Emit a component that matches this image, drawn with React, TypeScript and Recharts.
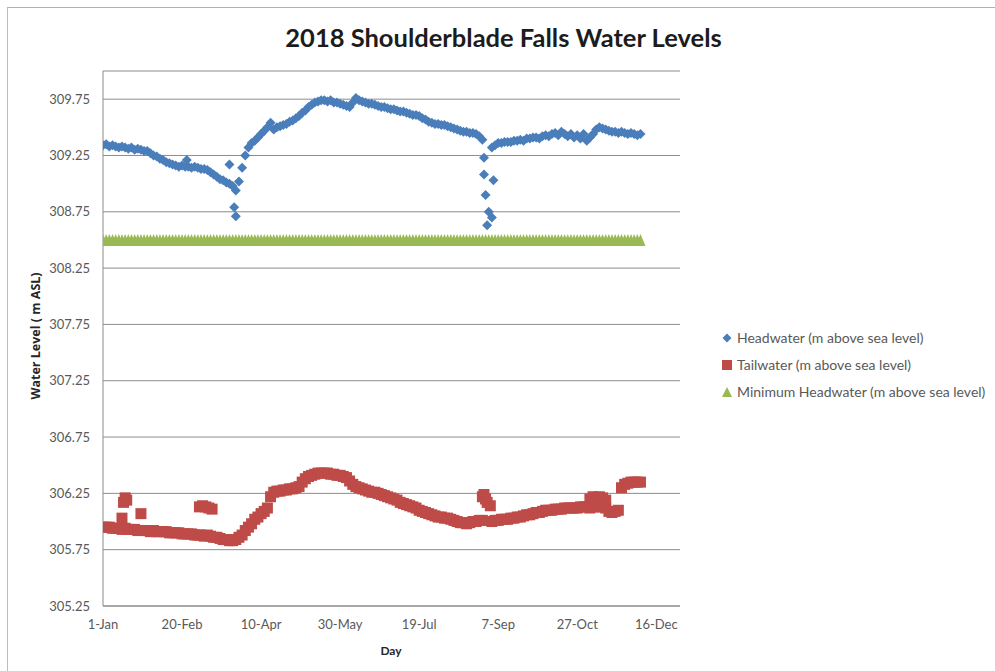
import React from 'react';
import { ScatterChart, Scatter, XAxis, YAxis, CartesianGrid } from 'recharts';

// daily readings sampled every 2 days, starting 1-Jan 2018 (day 0)
const SAMPLE_STEP = 2;

const HEADWATER: (number | null)[] = [
  309.34, 309.35, 309.33, 309.34, 309.33, 309.32, 309.33, 309.32, 309.31, 309.32,
  309.30, 309.31, 309.30, 309.29, 309.29, 309.27, 309.25, 309.24, 309.22, 309.21,
  309.19, 309.18, 309.17, 309.16, 309.15, 309.16, 309.15, 309.15, 309.14, 309.15,
  309.14, 309.13, 309.13, 309.12, 309.10, 309.08, 309.06, 309.04, 309.03, 309.01,
  309.00, 308.98, 308.94, 309.02, 309.14, 309.25, 309.32, 309.36, 309.38, 309.41,
  309.44, 309.47, 309.50, 309.54, 309.48, 309.50, 309.51, 309.52, 309.53, 309.55,
  309.56, 309.58, 309.60, 309.63, 309.65, 309.68, 309.70, 309.72, 309.73, 309.74,
  309.74, 309.73, 309.74, 309.72, 309.72, 309.71, 309.70, 309.69, 309.68, 309.72,
  309.76, 309.74, 309.73, 309.72, 309.71, 309.71, 309.70, 309.69, 309.68, 309.68,
  309.67, 309.66, 309.66, 309.65, 309.64, 309.64, 309.63, 309.62, 309.61, 309.61,
  309.60, 309.58, 309.57, 309.55, 309.54, 309.53, 309.53, 309.52, 309.52, 309.51,
  309.50, 309.49, 309.48, 309.47, 309.46, 309.46, 309.45, 309.45, 309.44, 309.42,
  309.39, null, null, 309.32, 309.34, 309.36, 309.36, 309.37, 309.37, 309.37,
  309.38, 309.38, 309.39, 309.38, 309.40, 309.40, 309.41, 309.41, 309.40, 309.42,
  309.43, 309.42, 309.44, 309.45, 309.43, 309.46, 309.44, 309.42, 309.44, 309.41,
  309.43, 309.40, 309.44, 309.38, 309.41, 309.44, 309.48, 309.50, 309.49, 309.48,
  309.47, 309.46, 309.46, 309.45, 309.46, 309.45, 309.44, 309.45, 309.44, 309.43,
  309.44,
];

// [day, level] readings that sit off the main curve
const HEADWATER_OUTLIERS: [number, number][] = [
  [53, 309.21], [80, 309.17], [83, 308.79], [84, 308.71],
  [241, 309.23], [241, 309.08], [247, 309.03], [242, 308.9],
  [244, 308.75], [246, 308.7], [243, 308.63],
];

const TAILWATER: (number | null)[] = [
  305.95, 305.95, 305.95, 305.94, 305.94, 305.94, 305.93, 305.94, 305.93, 305.93,
  305.93, 305.92, 305.92, 305.92, 305.92, 305.91, 305.92, 305.91, 305.91, 305.91,
  305.91, 305.90, 305.90, 305.90, 305.90, 305.89, 305.89, 305.89, 305.89, 305.88,
  305.88, 305.88, 305.87, 305.88, 305.87, 305.86, 305.86, 305.85, 305.84, 305.84,
  305.83, 305.83, 305.84, 305.86, 305.88, 305.92, 305.95, 305.98, 306.02, 306.04,
  306.07, 306.09, 306.12, 306.22, 306.26, 306.27, 306.27, 306.28, 306.28, 306.29,
  306.29, 306.30, 306.31, 306.35, 306.38, 306.40, 306.41, 306.42, 306.43, 306.43,
  306.43, 306.43, 306.42, 306.42, 306.41, 306.41, 306.40, 306.39, 306.36, 306.33,
  306.31, 306.30, 306.29, 306.28, 306.27, 306.26, 306.26, 306.25, 306.24, 306.23,
  306.22, 306.21, 306.20, 306.19, 306.17, 306.16, 306.15, 306.14, 306.13, 306.12,
  306.10, 306.09, 306.08, 306.07, 306.06, 306.05, 306.04, 306.04, 306.03, 306.03,
  306.02, 306.01, 306.00, 305.99, 305.99, 305.98, 305.99, 306.00, 306.00, 306.01,
  306.01, null, null, 306.00, 306.01, 306.01, 306.02, 306.02, 306.02, 306.03,
  306.03, 306.04, 306.04, 306.05, 306.06, 306.06, 306.07, 306.08, 306.08, 306.09,
  306.10, 306.10, 306.10, 306.11, 306.11, 306.11, 306.12, 306.12, 306.12, 306.12,
  306.12, 306.13, 306.13, 306.13, 306.12, 306.13, 306.14, 306.13, 306.13, 306.12,
  306.09, 306.08, 306.09, 306.10, 306.30, 306.33, 306.34, 306.35, 306.35, 306.35,
  306.35,
];

const TAILWATER_OUTLIERS: [number, number][] = [
  [12, 306.03], [13, 306.17], [14, 306.21], [15, 306.19], [24, 306.07],
  [61, 306.13], [63, 306.14], [65, 306.13], [67, 306.12], [69, 306.11],
  [240, 306.22], [241, 306.24], [242, 306.2], [243, 306.17], [245, 306.14],
  [308, 306.2], [310, 306.22], [312, 306.21], [314, 306.22], [316, 306.21], [318, 306.19],
];

const MIN_HEADWATER = 308.5;

const X_TICKS = [0, 50, 100, 150, 200, 250, 300, 350];
const X_TICK_LABELS = ['1-Jan', '20-Feb', '10-Apr', '30-May', '19-Jul', '7-Sep', '27-Oct', '16-Dec'];
const Y_TICKS = [305.25, 305.75, 306.25, 306.75, 307.25, 307.75, 308.25, 308.75, 309.25, 309.75];

const BLUE = '#4A7EBB';
const RED = '#BE4B48';
const GREEN = '#98B954';
const FONT = 'Lato, "Open Sans", sans-serif';

const toPoints = (vals: (number | null)[]) =>
  vals
    .map((v, i) => (v == null ? null : { x: i * SAMPLE_STEP, y: v }))
    .filter((p): p is { x: number; y: number } => p !== null);

const headwaterData = [...toPoints(HEADWATER), ...HEADWATER_OUTLIERS.map(([x, y]) => ({ x, y }))];
const tailwaterData = [...toPoints(TAILWATER), ...TAILWATER_OUTLIERS.map(([x, y]) => ({ x, y }))];
const minData = toPoints(HEADWATER.map(() => MIN_HEADWATER));

const Diamond = ({ cx, cy }: any) => {
  const r = 5;
  return <path d={`M${cx},${cy - r}L${cx + r},${cy}L${cx},${cy + r}L${cx - r},${cy}Z`} fill={BLUE} />;
};

const Square = ({ cx, cy }: any) => <rect x={cx - 5.5} y={cy - 5.5} width={11} height={11} fill={RED} />;

const Triangle = ({ cx, cy }: any) => (
  <path d={`M${cx},${cy - 6}L${cx + 5},${cy + 6}L${cx - 5},${cy + 6}Z`} fill={GREEN} />
);

const legendItems = [
  { label: 'Headwater (m above sea level)', shape: 'diamond', color: BLUE },
  { label: 'Tailwater (m above sea level)', shape: 'square', color: RED },
  { label: 'Minimum Headwater (m above sea level)', shape: 'triangle', color: GREEN },
];

function LegendMarker({ shape, color }: { shape: string; color: string }) {
  return (
    <svg width={12} height={12} style={{ display: 'block' }}>
      {shape === 'diamond' && <path d="M6,1.5L10.5,6L6,10.5L1.5,6Z" fill={color} />}
      {shape === 'square' && <rect x={1} y={1} width={10} height={10} fill={color} />}
      {shape === 'triangle' && <path d="M6,1L11,11L1,11Z" fill={color} />}
    </svg>
  );
}

export default function App() {
  return (
    <div style={{ position: 'absolute', left: 0, top: 0, width: 995, height: 671, background: '#fff', fontFamily: FONT }}>
      <div
        style={{
          position: 'absolute',
          left: 7,
          top: 7,
          width: 990,
          height: 670,
          borderLeft: '1px solid #bdbdbd',
          borderTop: '1px solid #b0b0b0',
        }}
      />
      <div
        style={{
          position: 'absolute',
          left: 0,
          width: 1007,
          top: 22,
          textAlign: 'center',
          fontSize: 25.5,
          fontWeight: 700,
          color: '#1c1c1c',
        }}
      >
        2018 Shoulderblade Falls Water Levels
      </div>

      <ScatterChart width={995} height={671} margin={{ top: 71, right: 315, bottom: 35, left: 0 }}>
        <CartesianGrid vertical={false} stroke="#8c8c8c" />
        <XAxis
          type="number"
          dataKey="x"
          domain={[0, 365]}
          ticks={X_TICKS}
          tickFormatter={(v: number) => X_TICK_LABELS[X_TICKS.indexOf(v)]}
          tickLine={false}
          tickSize={0}
          tickMargin={14}
          height={30}
          stroke="#8c8c8c"
          tick={{ fill: '#595959', fontSize: 13, fontFamily: FONT }}
          allowDataOverflow
        />
        <YAxis
          type="number"
          dataKey="y"
          domain={[305.25, 310]}
          ticks={Y_TICKS}
          tickFormatter={(v: number) => v.toFixed(2)}
          tickLine={false}
          tickSize={0}
          tickMargin={13}
          width={103}
          stroke="#8c8c8c"
          tick={{ fill: '#595959', fontSize: 13, fontFamily: FONT }}
          allowDataOverflow
        />
        <Scatter name="Headwater (m above sea level)" data={headwaterData} shape={Diamond} isAnimationActive={false} />
        <Scatter name="Tailwater (m above sea level)" data={tailwaterData} shape={Square} isAnimationActive={false} />
        <Scatter name="Minimum Headwater (m above sea level)" data={minData} shape={Triangle} isAnimationActive={false} />
      </ScatterChart>

      <div
        style={{
          position: 'absolute',
          left: 35,
          top: 336,
          transform: 'translate(-50%, -50%) rotate(-90deg)',
          fontSize: 12.5,
          fontWeight: 700,
          fontFamily: '"Open Sans", sans-serif',
          color: '#262626',
          whiteSpace: 'nowrap',
        }}
      >
        Water Level ( m ASL)
      </div>
      <div
        style={{
          position: 'absolute',
          left: 391,
          top: 650,
          transform: 'translate(-50%, -50%)',
          fontSize: 12,
          fontWeight: 700,
          color: '#262626',
        }}
      >
        Day
      </div>

      <div style={{ position: 'absolute', left: 721, top: 324 }}>
        {legendItems.map((item) => (
          <div key={item.label} style={{ display: 'flex', alignItems: 'center', height: 27 }}>
            <LegendMarker shape={item.shape} color={item.color} />
            <span style={{ marginLeft: 4, fontSize: 14, color: '#595959', whiteSpace: 'nowrap' }}>{item.label}</span>
          </div>
        ))}
      </div>
    </div>
  );
}
